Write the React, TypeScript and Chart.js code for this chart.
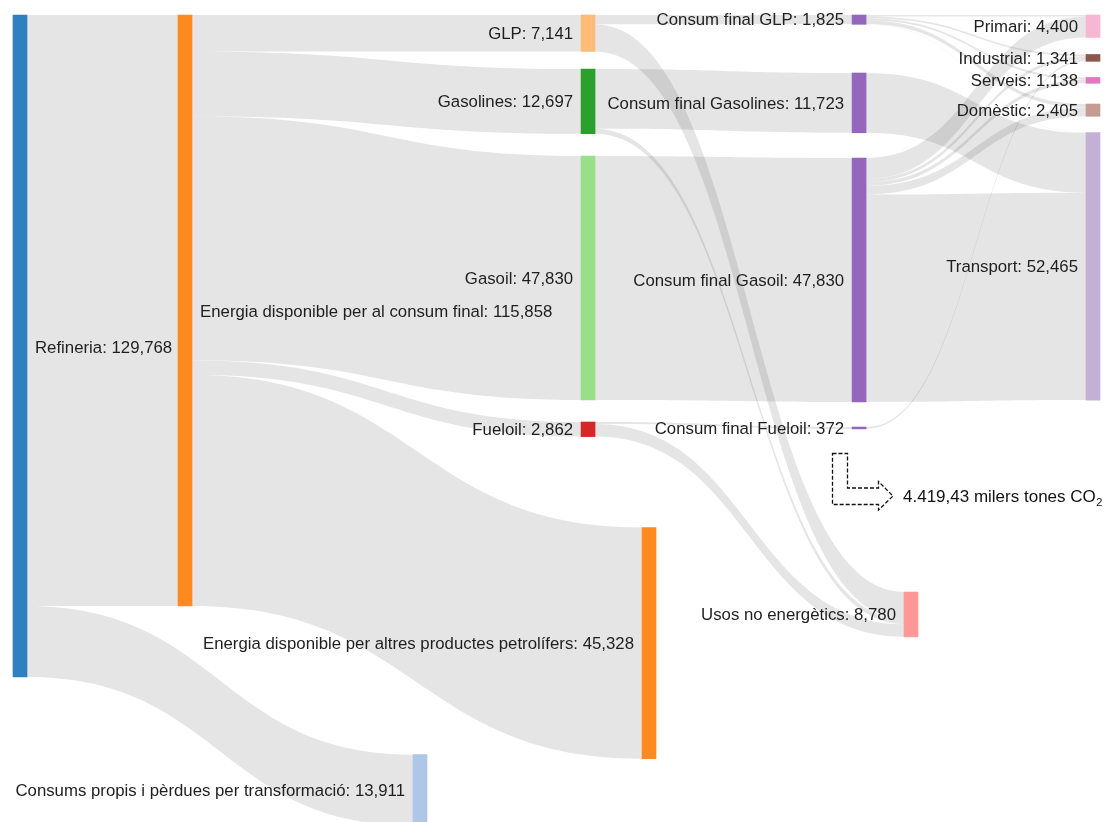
import React, { useEffect, useRef } from "react";
import { Chart, registerables } from "chart.js";
Chart.register(...registerables);

// ---------- DATA ----------
const NODE_NAMES = [
  "Refineria",
  "Energia disponible per al consum final",
  "Consums propis i pèrdues per transformació",
  "GLP",
  "Gasolines",
  "Gasoil",
  "Fueloil",
  "Energia disponible per altres productes petrolífers",
  "Consum final GLP",
  "Consum final Gasolines",
  "Consum final Gasoil",
  "Consum final Fueloil",
  "Usos no energètics",
  "Primari",
  "Industrial",
  "Serveis",
  "Domèstic",
  "Transport",
];
const NODE_VALUES = [
  129768, 115858, 13911, 7141, 12697, 47830, 2862, 45328, 1825, 11723, 47830,
  372, 8780, 4400, 1341, 1138, 2405, 52465,
];

const LINK_SOURCE = [0, 0, 1, 1, 1, 1, 1, 3, 3, 4, 4, 5, 6, 6, 8, 8, 8, 8, 8, 9, 10, 10, 10, 10, 10, 11];
const LINK_TARGET = [1, 2, 3, 4, 5, 6, 7, 8, 12, 9, 12, 10, 11, 12, 13, 14, 15, 16, 17, 17, 13, 14, 15, 16, 17, 14];
const LINK_VALUE = [
  115858, 13911, 7141, 12697, 47830, 2862, 45328, 1825, 5316, 11723, 974,
  47830, 372, 2490, 300, 350, 380, 720, 75, 11723, 4100, 619, 758, 1685,
  40668, 372,
];

const CO2_TEXT = "4.419,43 milers tones CO";
const CO2_SUB = "2";

// ---------- LAYOUT (positions / styles) ----------
const NODE_X = [0, 0.1538, 0.3728, 0.5294, 0.5294, 0.5294, 0.5294, 0.5862, 0.782, 0.782, 0.782, 0.782, 0.8304, 1, 1, 1, 1, 1];
const NODE_TOP = [0, 0, 145000, 0, 10590, 27640, 79790, 100470, 0, 11370, 28030, 80770, 113120, 0, 7740, 12250, 17450, 23030];
const LABEL_RIGHT = [true, true, false, false, false, false, false, false, false, false, false, false, false, false, false, false, false, false];
const NODE_COLORS = [
  "#2f80bf", "#ff8a1f", "#aec7e8", "#ffbb78", "#2ca02c", "#98df8a", "#d62728", "#ff8a1f",
  "#9467bd", "#9467bd", "#9467bd", "#9467bd", "#ff9896",
  "#f7b6d2", "#8c564b", "#e377c2", "#c49c94", "#c5b0d5",
];
const NODE_W = 14;
const LINK_COLOR = "rgba(0,0,0,0.1)";
const FONT = '16.8px "Liberation Sans", Arial, Helvetica, sans-serif';
const TEXT_COLOR = "#1e1e1e";
const Y_MAX = 158200;

const fmt = (v: number) => v.toLocaleString("en-US");

const sankeyPlugin = {
  id: "sankeyLinks",
  beforeDatasetsDraw(chart: any) {
    const { ctx } = chart;
    const xs = chart.scales.x;
    const ys = chart.scales.y;
    const n = NODE_NAMES.length;
    const center = (i: number) => NODE_TOP[i] + NODE_VALUES[i] / 2;
    const outOff = new Array(n).fill(0);
    const inOff = new Array(n).fill(0);
    const idx = LINK_VALUE.map((_, i) => i);
    const srcPos: number[] = [];
    const tgtPos: number[] = [];
    for (let s = 0; s < n; s++) {
      idx
        .filter((l) => LINK_SOURCE[l] === s)
        .sort((a, b) => center(LINK_TARGET[a]) - center(LINK_TARGET[b]))
        .forEach((l) => {
          srcPos[l] = NODE_TOP[s] + outOff[s];
          outOff[s] += LINK_VALUE[l];
        });
      idx
        .filter((l) => LINK_TARGET[l] === s)
        .sort((a, b) => center(LINK_SOURCE[a]) - center(LINK_SOURCE[b]))
        .forEach((l) => {
          tgtPos[l] = NODE_TOP[s] + inOff[s];
          inOff[s] += LINK_VALUE[l];
        });
    }
    ctx.save();
    ctx.fillStyle = LINK_COLOR;
    idx.forEach((l) => {
      const s = LINK_SOURCE[l];
      const t = LINK_TARGET[l];
      const x0 = xs.getPixelForValue(NODE_X[s]) + NODE_W / 2;
      const x1 = xs.getPixelForValue(NODE_X[t]) - NODE_W / 2;
      const xm = (x0 + x1) / 2;
      const y0a = ys.getPixelForValue(srcPos[l]);
      const y0b = ys.getPixelForValue(srcPos[l] + LINK_VALUE[l]);
      const y1a = ys.getPixelForValue(tgtPos[l]);
      const y1b = ys.getPixelForValue(tgtPos[l] + LINK_VALUE[l]);
      ctx.beginPath();
      ctx.moveTo(x0, y0a);
      ctx.bezierCurveTo(xm, y0a, xm, y1a, x1, y1a);
      ctx.lineTo(x1, y1b);
      ctx.bezierCurveTo(xm, y1b, xm, y0b, x0, y0b);
      ctx.closePath();
      ctx.fill();
    });
    ctx.restore();
  },
  afterDatasetsDraw(chart: any) {
    const { ctx } = chart;
    const xs = chart.scales.x;
    const ys = chart.scales.y;
    ctx.save();
    ctx.font = FONT;
    ctx.fillStyle = TEXT_COLOR;
    ctx.textBaseline = "middle";
    NODE_NAMES.forEach((name, i) => {
      const cx = xs.getPixelForValue(NODE_X[i]);
      const cy = ys.getPixelForValue(NODE_TOP[i] + NODE_VALUES[i] / 2);
      const txt = `${name}: ${fmt(NODE_VALUES[i])}`;
      if (LABEL_RIGHT[i]) {
        ctx.textAlign = "left";
        ctx.fillText(txt, cx + NODE_W / 2 + 8, cy + 2);
      } else {
        ctx.textAlign = "right";
        ctx.fillText(txt, cx - NODE_W / 2 - 8, cy + 1);
      }
    });
    ctx.restore();
  },
  afterDraw(chart: any) {
    const { ctx } = chart;
    const pts: [number, number][] = [
      [832.5, 453.5], [847.5, 453.5], [847.5, 488], [878.5, 488], [878.5, 481.5],
      [893, 496], [878.5, 510], [878.5, 504.5], [832.5, 504.5],
    ];
    ctx.save();
    ctx.strokeStyle = "#111";
    ctx.lineWidth = 1.3;
    ctx.setLineDash([4, 2]);
    ctx.beginPath();
    pts.forEach(([x, y], i) => (i === 0 ? ctx.moveTo(x, y) : ctx.lineTo(x, y)));
    ctx.closePath();
    ctx.stroke();
    ctx.setLineDash([]);
    ctx.fillStyle = "#111";
    ctx.font = '17px "Liberation Sans", Arial, Helvetica, sans-serif';
    ctx.textBaseline = "middle";
    ctx.textAlign = "left";
    ctx.fillText(CO2_TEXT, 903, 497);
    const w = ctx.measureText(CO2_TEXT).width;
    ctx.font = '11px "Liberation Sans", Arial, Helvetica, sans-serif';
    ctx.fillText(CO2_SUB, 903 + w + 0.5, 503);
    ctx.restore();
  },
};

export default function App() {
  const ref = useRef<HTMLCanvasElement | null>(null);
  useEffect(() => {
    document.body.style.margin = "0";
    const canvas = ref.current;
    if (!canvas) return;
    const chart = new Chart(canvas, {
      type: "bar",
      data: {
        datasets: [
          {
            data: NODE_NAMES.map((_, i) => ({
              x: NODE_X[i],
              y: [NODE_TOP[i], NODE_TOP[i] + NODE_VALUES[i]],
            })) as any,
            backgroundColor: NODE_COLORS,
            barThickness: NODE_W,
            borderWidth: 0,
            clip: false as any,
          },
        ],
      },
      options: {
        animation: false,
        responsive: false,
        devicePixelRatio: 1,
        layout: { padding: { left: 20, right: 12, top: 15, bottom: 0 } },
        scales: {
          x: { type: "linear", min: 0, max: 1, offset: false, display: false },
          y: { type: "linear", min: 0, max: Y_MAX, reverse: true, display: false },
        },
        plugins: { legend: { display: false }, tooltip: { enabled: false } },
      },
      plugins: [sankeyPlugin],
    });
    return () => chart.destroy();
  }, []);
  return (
    <div style={{ width: 1105, height: 822, background: "#fff" }}>
      <canvas ref={ref} width={1105} height={822} style={{ display: "block" }} />
    </div>
  );
}
